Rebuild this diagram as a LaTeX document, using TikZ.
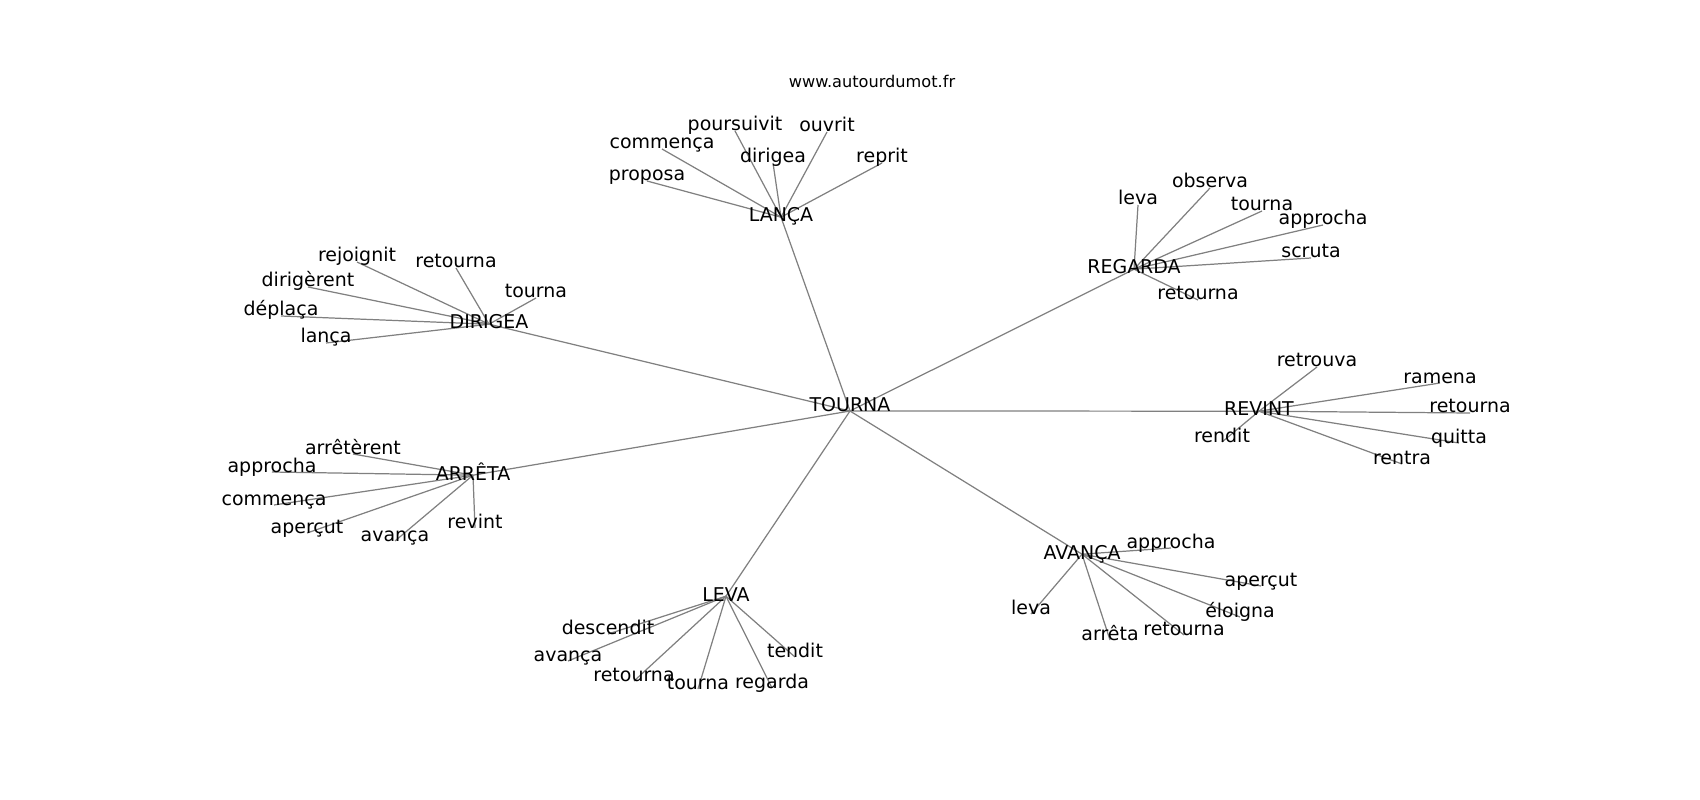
\documentclass[tikz,border=0pt]{standalone}
\usepackage{fontspec}
\setmainfont{DejaVu Sans}
\usetikzlibrary{backgrounds}
\begin{document}
\begin{tikzpicture}[x=0.02cm, y=-0.02cm,
  mot/.style={anchor=base, inner sep=0pt, font=\fontsize{10.8}{13}\selectfont},
  lien/.style={draw=gray, line width=0.7pt}]
\useasboundingbox (0,0) rectangle (1700,800);
\node[anchor=base, inner sep=0pt, font=\fontsize{9.2}{11}\selectfont] (T_0) at (872,88) {www.autourdumot.fr};
% centre
\node[mot] (P_0_0) at (850,411) {TOURNA};
% LANÇA
\node[mot] (P_1_0) at (781,222) {LANÇA};
\node[mot] (P_2_0) at (647,181) {proposa};
\node[mot] (P_2_1) at (662,149) {commença};
\node[mot] (P_2_2) at (735,131) {poursuivit};
\node[mot] (P_2_3) at (773,163) {dirigea};
\node[mot] (P_2_4) at (827,132) {ouvrit};
\node[mot] (P_2_5) at (882,163) {reprit};
% DIRIGEA
\node[mot] (P_1_1) at (489,329) {DIRIGEA};
\node[mot] (P_3_0) at (357,262) {rejoignit};
\node[mot] (P_3_1) at (456,268) {retourna};
\node[mot] (P_3_2) at (536,298) {tourna};
\node[mot] (P_3_3) at (308,287) {dirigèrent};
\node[mot] (P_3_4) at (281,316) {déplaça};
\node[mot] (P_3_5) at (326,343) {lança};
% ARRÊTA
\node[mot] (P_1_2) at (473,480) {ARRÊTA};
\node[mot] (P_4_0) at (353,454) {arrêtèrent};
\node[mot] (P_4_1) at (272,472) {approcha};
\node[mot] (P_4_2) at (274,505) {commença};
\node[mot] (P_4_3) at (307,533) {aperçut};
\node[mot] (P_4_4) at (395,541) {avança};
\node[mot] (P_4_5) at (475,528) {revint};
% LEVA
\node[mot] (P_1_3) at (726,601) {LEVA};
\node[mot] (P_5_0) at (608,634) {descendit};
\node[mot] (P_5_1) at (568,661) {avança};
\node[mot] (P_5_2) at (634,681) {retourna};
\node[mot] (P_5_3) at (698,689) {tourna};
\node[mot] (P_5_4) at (772,688) {regarda};
\node[mot] (P_5_5) at (795,657) {tendit};
% AVANÇA
\node[mot] (P_1_4) at (1082,559) {AVANÇA};
\node[mot] (P_6_0) at (1171,548) {approcha};
\node[mot] (P_6_1) at (1261,586) {aperçut};
\node[mot] (P_6_2) at (1031,614) {leva};
\node[mot] (P_6_3) at (1240,617) {éloigna};
\node[mot] (P_6_4) at (1110,640) {arrêta};
\node[mot] (P_6_5) at (1184,635) {retourna};
% REVINT
\node[mot] (P_1_5) at (1259,416) {REVINT};
\node[mot] (P_7_0) at (1317,367) {retrouva};
\node[mot] (P_7_1) at (1440,383) {ramena};
\node[mot] (P_7_2) at (1470,413) {retourna};
\node[mot] (P_7_3) at (1222,442) {rendit};
\node[mot] (P_7_4) at (1459,443) {quitta};
\node[mot] (P_7_5) at (1402,464) {rentra};
% REGARDA
\node[mot] (P_1_6) at (1134,274) {REGARDA};
\node[mot] (P_8_0) at (1138,205) {leva};
\node[mot] (P_8_1) at (1210,188) {observa};
\node[mot] (P_8_2) at (1262,211) {tourna};
\node[mot] (P_8_3) at (1323,225) {approcha};
\node[mot] (P_8_4) at (1311,258) {scruta};
\node[mot] (P_8_5) at (1198,300) {retourna};
\begin{scope}[on background layer]
\draw[lien] (P_0_0.base) -- (P_1_0.mid);
\draw[lien] (P_0_0.base) -- (P_1_1.mid);
\draw[lien] (P_0_0.base) -- (P_1_2.mid);
\draw[lien] (P_0_0.base) -- (P_1_3.mid);
\draw[lien] (P_0_0.base) -- (P_1_4.mid);
\draw[lien] (P_0_0.base) -- (P_1_5.mid);
\draw[lien] (P_0_0.base) -- (P_1_6.mid);
\draw[lien] (P_1_0.mid) -- (P_2_0.base);
\draw[lien] (P_1_0.mid) -- (P_2_1.base);
\draw[lien] (P_1_0.mid) -- (P_2_2.base);
\draw[lien] (P_1_0.mid) -- (P_2_3.base);
\draw[lien] (P_1_0.mid) -- (P_2_4.base);
\draw[lien] (P_1_0.mid) -- (P_2_5.base);
\draw[lien] (P_1_1.mid) -- (P_3_0.base);
\draw[lien] (P_1_1.mid) -- (P_3_1.base);
\draw[lien] (P_1_1.mid) -- (P_3_2.base);
\draw[lien] (P_1_1.mid) -- (P_3_3.base);
\draw[lien] (P_1_1.mid) -- (P_3_4.base);
\draw[lien] (P_1_1.mid) -- (P_3_5.base);
\draw[lien] (P_1_2.mid) -- (P_4_0.base);
\draw[lien] (P_1_2.mid) -- (P_4_1.base);
\draw[lien] (P_1_2.mid) -- (P_4_2.base);
\draw[lien] (P_1_2.mid) -- (P_4_3.base);
\draw[lien] (P_1_2.mid) -- (P_4_4.base);
\draw[lien] (P_1_2.mid) -- (P_4_5.base);
\draw[lien] (P_1_3.mid) -- (P_5_0.base);
\draw[lien] (P_1_3.mid) -- (P_5_1.base);
\draw[lien] (P_1_3.mid) -- (P_5_2.base);
\draw[lien] (P_1_3.mid) -- (P_5_3.base);
\draw[lien] (P_1_3.mid) -- (P_5_4.base);
\draw[lien] (P_1_3.mid) -- (P_5_5.base);
\draw[lien] (P_1_4.mid) -- (P_6_0.base);
\draw[lien] (P_1_4.mid) -- (P_6_1.base);
\draw[lien] (P_1_4.mid) -- (P_6_2.base);
\draw[lien] (P_1_4.mid) -- (P_6_3.base);
\draw[lien] (P_1_4.mid) -- (P_6_4.base);
\draw[lien] (P_1_4.mid) -- (P_6_5.base);
\draw[lien] (P_1_5.mid) -- (P_7_0.base);
\draw[lien] (P_1_5.mid) -- (P_7_1.base);
\draw[lien] (P_1_5.mid) -- (P_7_2.base);
\draw[lien] (P_1_5.mid) -- (P_7_3.base);
\draw[lien] (P_1_5.mid) -- (P_7_4.base);
\draw[lien] (P_1_5.mid) -- (P_7_5.base);
\draw[lien] (P_1_6.mid) -- (P_8_0.base);
\draw[lien] (P_1_6.mid) -- (P_8_1.base);
\draw[lien] (P_1_6.mid) -- (P_8_2.base);
\draw[lien] (P_1_6.mid) -- (P_8_3.base);
\draw[lien] (P_1_6.mid) -- (P_8_4.base);
\draw[lien] (P_1_6.mid) -- (P_8_5.base);
\end{scope}
\end{tikzpicture}
\end{document}
